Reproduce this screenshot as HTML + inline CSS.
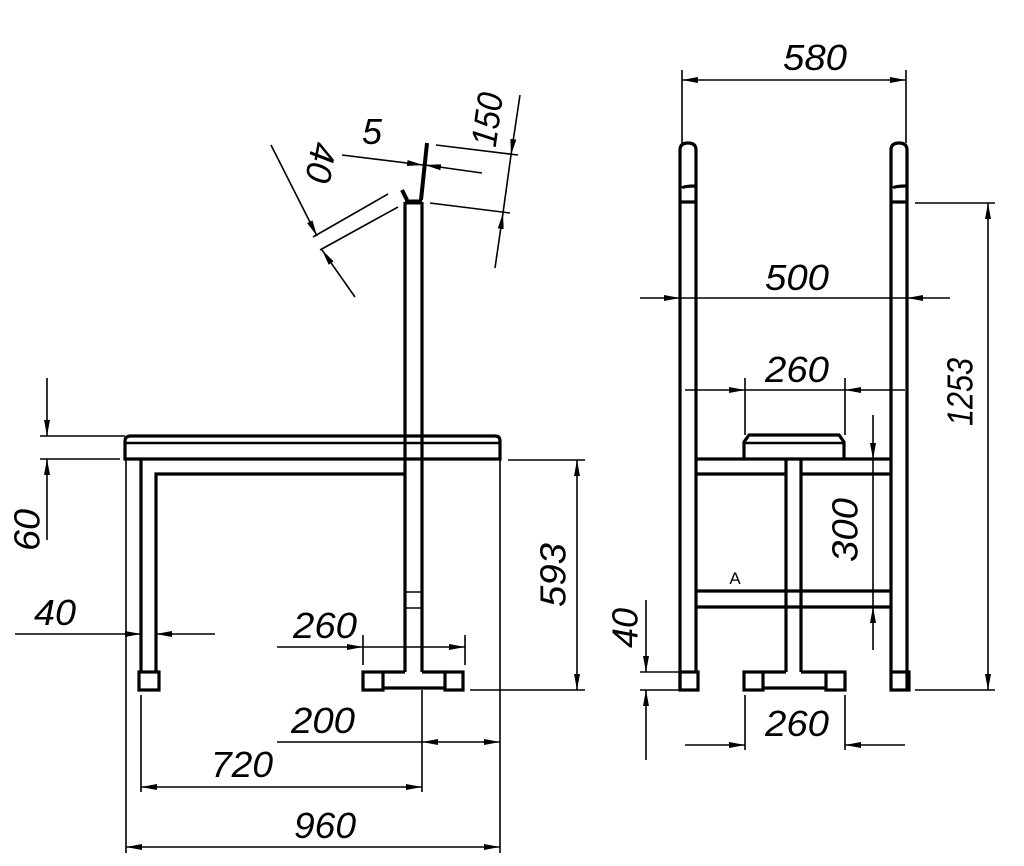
<!DOCTYPE html>
<html><head><meta charset="utf-8"><style>
html,body{margin:0;padding:0;background:#fff;}
svg{display:block}
text{font-family:"Liberation Sans",sans-serif;font-style:italic;font-size:36px;fill:#000;}
</style></head><body>
<svg width="1024" height="866" viewBox="0 0 1024 866" xmlns="http://www.w3.org/2000/svg">
<defs>
<marker id="a" viewBox="0 0 16 8" refX="16" refY="4" markerWidth="16" markerHeight="8" markerUnits="userSpaceOnUse" orient="auto-start-reverse">
<path d="M0,1 L16,4 L0,7 Z" fill="#000"/>
</marker>
</defs>
<g fill="none" stroke="#000" stroke-width="3.2">
<path d="M125,459 L125,441 Q125,436 131,436 L495,436 Q500,436 500,441 L500,459 Z"/>
<line x1="126" y1="443" x2="499" y2="443" stroke-width="2.5"/>
<path d="M141,459 L141,672 M156,672 L156,474 L405,474"/>
<rect x="139" y="672" width="20" height="18"/>
<path d="M405,202 L405,672 M422,202 L422,672"/>
<path d="M405,202 L422,202" stroke-width="5"/>
<path d="M402,190 L407,200" stroke-width="4"/>
<path d="M421,200 L427,143" stroke-width="4"/>
<path d="M405,592 L422,592 M405,608 L422,608" stroke-width="1.5"/>
<rect x="363" y="672" width="20" height="18"/>
<rect x="445" y="672" width="18" height="18"/>
<path d="M383,672 L405,672 M422,672 L445,672 M383,688 L445,688"/>
<path d="M680,690 L680,150 Q680,143 688,143 Q696,143 696,150 L696,672"/>
<path d="M682,188 Q684,186 696,186 M680,202 L696,202"/>
<rect x="680" y="672" width="18" height="18"/>
<path d="M891,672 L891,150 Q891,143 899,143 Q907,143 907,150 L907,690"/>
<path d="M893,188 Q895,186 907,186 M891,202 L907,202"/>
<rect x="891" y="672" width="18" height="18"/>
<path d="M696,459 L891,459 M696,474 L786,474 M801,474 L891,474 M696,591 L891,591 M696,607 L891,607"/>
<path d="M786,459 L786,672 M801,459 L801,672"/>
<path d="M744,459 L744,442 L749,435 L839,435 L844,442 L844,459" />
<line x1="745" y1="443" x2="843" y2="443" stroke-width="2.5"/>
<rect x="744" y="672" width="19" height="18"/>
<rect x="826" y="672" width="19" height="18"/>
<path d="M763,672 L786,672 M801,672 L826,672 M763,688 L826,688"/>
</g>
<g fill="none" stroke="#000" stroke-width="1.6">
<line x1="47" y1="378" x2="47" y2="436" marker-end="url(#a)"/>
<line x1="47" y1="540" x2="47" y2="459" marker-end="url(#a)"/>
<path d="M40,436 L125,436 M40,459 L120,459"/>
<line x1="15" y1="634" x2="141" y2="634" marker-end="url(#a)"/>
<line x1="215" y1="634" x2="156" y2="634" marker-end="url(#a)"/>
<line x1="277" y1="647" x2="363" y2="647" marker-end="url(#a)"/>
<line x1="363" y1="647" x2="465" y2="647" marker-end="url(#a)"/>
<path d="M363,635 L363,665 M465,635 L465,665"/>
<line x1="577" y1="460" x2="577" y2="690" marker-start="url(#a)" marker-end="url(#a)"/>
<path d="M508,460 L585,460 M470,690 L585,690"/>
<line x1="277" y1="742" x2="422" y2="742"/>
<line x1="422" y1="742" x2="500" y2="742" marker-start="url(#a)" marker-end="url(#a)"/>
<line x1="141" y1="787" x2="422" y2="787" marker-start="url(#a)" marker-end="url(#a)"/>
<line x1="126" y1="847" x2="500" y2="847" marker-start="url(#a)" marker-end="url(#a)"/>
<path d="M126,460 L126,853 M500,460 L500,853 M141,695 L141,792 M422,690 L422,792"/>
<line x1="271" y1="145" x2="317" y2="236" marker-end="url(#a)"/>
<line x1="355" y1="297" x2="322" y2="250" marker-end="url(#a)"/>
<path d="M313,237 L388,194 M320,250 L398,207"/>
<line x1="342" y1="155" x2="423" y2="165" marker-end="url(#a)"/>
<line x1="482" y1="173" x2="425" y2="165" marker-end="url(#a)"/>
<path d="M436,145 L518,155 M430,203 L510,213"/>
<line x1="520" y1="95" x2="511" y2="155" marker-end="url(#a)"/>
<line x1="495" y1="268" x2="503" y2="213" marker-end="url(#a)"/>
<line x1="511" y1="155" x2="503" y2="213"/>
<line x1="682" y1="80" x2="906" y2="80" marker-start="url(#a)" marker-end="url(#a)"/>
<path d="M682,70 L682,143 M906,70 L906,143"/>
<line x1="640" y1="298" x2="680" y2="298" marker-end="url(#a)"/>
<line x1="950" y1="298" x2="907" y2="298" marker-end="url(#a)"/>
<line x1="680" y1="298" x2="907" y2="298"/>
<line x1="685" y1="390" x2="745" y2="390" marker-end="url(#a)"/>
<line x1="905" y1="390" x2="845" y2="390" marker-end="url(#a)"/>
<line x1="745" y1="390" x2="845" y2="390"/>
<path d="M745,378 L745,435 M845,378 L845,435"/>
<line x1="988" y1="203" x2="988" y2="690" marker-start="url(#a)" marker-end="url(#a)"/>
<path d="M915,203 L995,203 M915,690 L995,690"/>
<line x1="873" y1="415" x2="873" y2="459" marker-end="url(#a)"/>
<line x1="873" y1="650" x2="873" y2="607" marker-end="url(#a)"/>
<line x1="873" y1="459" x2="873" y2="607"/>
<line x1="646" y1="600" x2="646" y2="672" marker-end="url(#a)"/>
<line x1="646" y1="760" x2="646" y2="690" marker-end="url(#a)"/>
<path d="M640,672 L680,672 M640,690 L680,690"/>
<line x1="685" y1="745" x2="745" y2="745" marker-end="url(#a)"/>
<line x1="905" y1="745" x2="845" y2="745" marker-end="url(#a)"/>
<path d="M745,695 L745,750 M845,695 L845,750"/>
</g>
<g>
<text x="30" y="530" transform="rotate(-90 30 530)" text-anchor="middle" dominant-baseline="middle" textLength="42" lengthAdjust="spacingAndGlyphs">60</text>
<text x="55" y="625" text-anchor="middle" textLength="42" lengthAdjust="spacingAndGlyphs">40</text>
<text x="325" y="638" text-anchor="middle" textLength="64" lengthAdjust="spacingAndGlyphs">260</text>
<text x="556" y="575" transform="rotate(-90 556 575)" text-anchor="middle" dominant-baseline="middle" textLength="64" lengthAdjust="spacingAndGlyphs">593</text>
<text x="323" y="733" text-anchor="middle" textLength="64" lengthAdjust="spacingAndGlyphs">200</text>
<text x="242" y="777" text-anchor="middle" textLength="62" lengthAdjust="spacingAndGlyphs">720</text>
<text x="325" y="838" text-anchor="middle" textLength="62" lengthAdjust="spacingAndGlyphs">960</text>
<text x="318" y="162" transform="rotate(100 318 162)" text-anchor="middle" dominant-baseline="middle" textLength="40" lengthAdjust="spacingAndGlyphs">40</text>
<text x="372" y="144" text-anchor="middle">5</text>
<text x="490" y="120" transform="rotate(-82 490 120)" text-anchor="middle" dominant-baseline="middle" textLength="54" lengthAdjust="spacingAndGlyphs">150</text>
<text x="815" y="70" text-anchor="middle" textLength="64" lengthAdjust="spacingAndGlyphs">580</text>
<text x="797" y="290" text-anchor="middle" textLength="64" lengthAdjust="spacingAndGlyphs">500</text>
<text x="797" y="382" text-anchor="middle" textLength="64" lengthAdjust="spacingAndGlyphs">260</text>
<text x="963" y="392" transform="rotate(-90 963 392)" text-anchor="middle" dominant-baseline="middle" textLength="68" lengthAdjust="spacingAndGlyphs">1253</text>
<text x="848" y="530" transform="rotate(-90 848 530)" text-anchor="middle" dominant-baseline="middle" textLength="64" lengthAdjust="spacingAndGlyphs">300</text>
<text x="628" y="628" transform="rotate(-90 628 628)" text-anchor="middle" dominant-baseline="middle" textLength="40" lengthAdjust="spacingAndGlyphs">40</text>
<text x="797" y="736" text-anchor="middle" textLength="64" lengthAdjust="spacingAndGlyphs">260</text>
<text x="735" y="584" text-anchor="middle" style="font-style:normal;font-size:17px">A</text>
</g>
</svg>
</body></html>
